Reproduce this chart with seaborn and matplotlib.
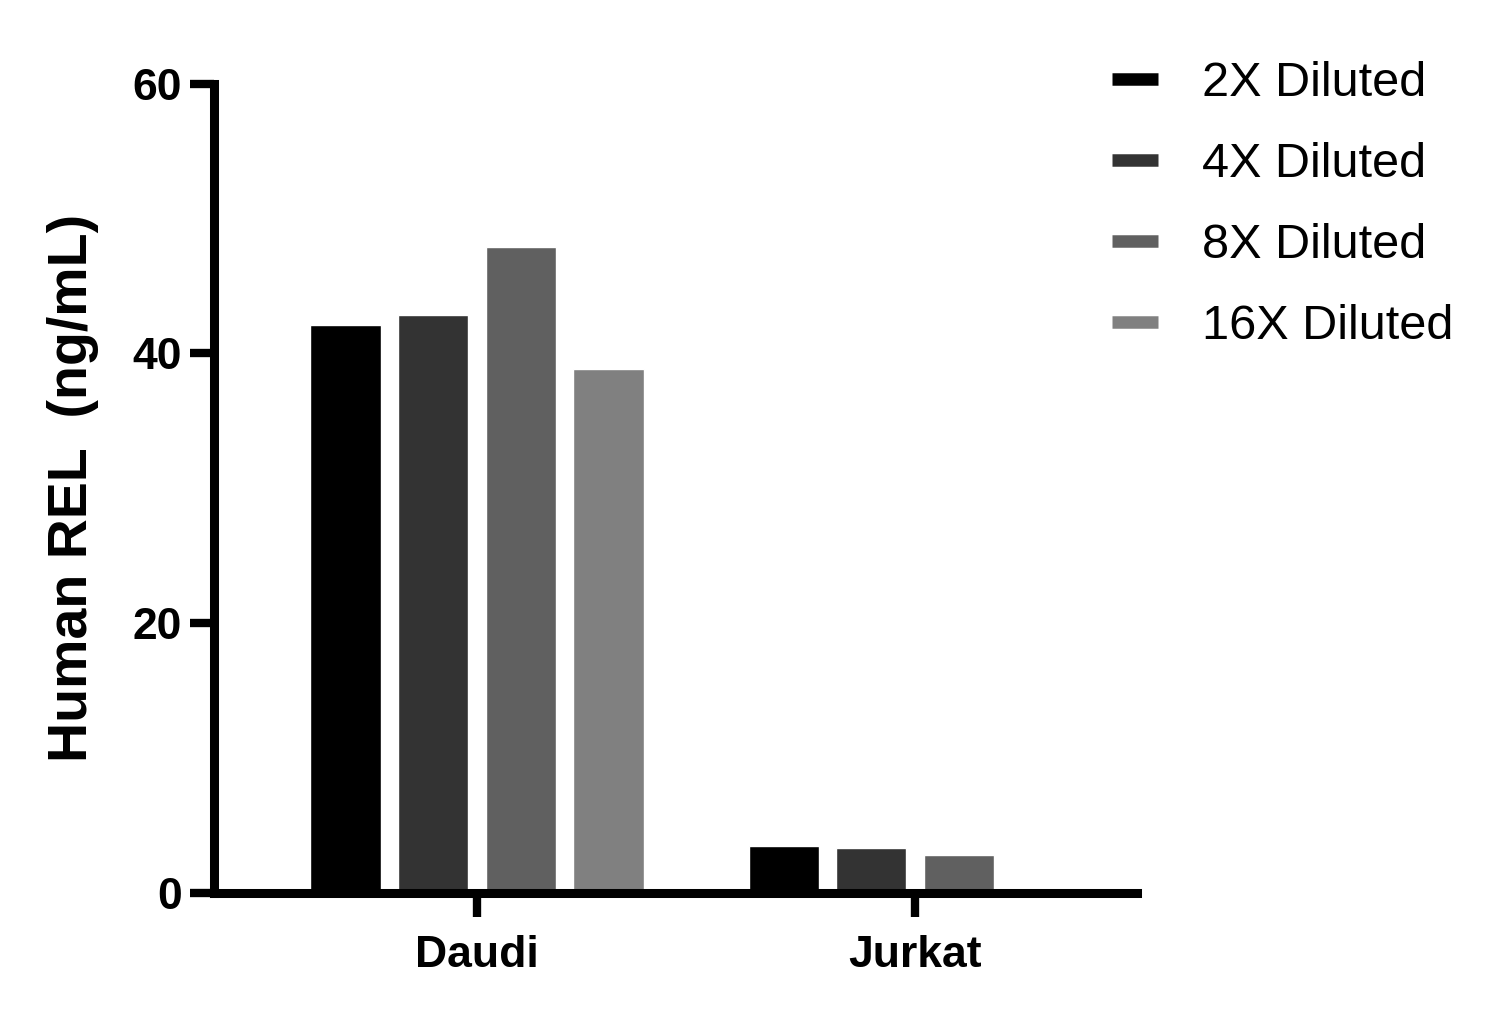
import matplotlib
matplotlib.use("Agg")
import matplotlib.pyplot as plt
from matplotlib.lines import Line2D
import seaborn as sns
import pandas as pd
import numpy as np

categories = ["Daudi", "Jurkat"]
series = ["2X Diluted", "4X Diluted", "8X Diluted", "16X Diluted"]
values_2x = [42.1, 3.5]
values_4x = [42.85, 3.3]
values_8x = [47.9, 2.85]
values_16x = [38.85, np.nan]
colors = ["#000000", "#333333", "#606060", "#808080"]

rows = []
for s, vals in zip(series, [values_2x, values_4x, values_8x, values_16x]):
    for c, v in zip(categories, vals):
        rows.append({"Cell": c, "Dilution": s, "Value": v})
df = pd.DataFrame(rows)

sns.set_style("white", {"xtick.bottom": True, "ytick.left": True})
plt.rcParams["font.family"] = ["Liberation Sans", "DejaVu Sans"]
plt.rcParams["text.color"] = "black"
plt.rcParams["axes.labelcolor"] = "black"
plt.rcParams["xtick.color"] = "black"
plt.rcParams["ytick.color"] = "black"

fig = plt.figure(figsize=(14.97, 10.19), dpi=100)
ax = fig.add_axes([0.143, 0.1237, 0.6165, 0.7943])

sns.barplot(data=df, x="Cell", y="Value", hue="Dilution", order=categories,
            hue_order=series, palette=colors, width=0.8, gap=0.2,
            saturation=1, ax=ax, legend=False, errorbar=None)

ax.set_xlim(-0.6, 1.506)
ax.set_ylim(0, 60)
ax.set_yticks([0, 20, 40, 60])
ax.set_xlabel("")
ax.set_ylabel("Human REL  (ng/mL)", fontsize=40, fontweight="bold", labelpad=24)

for side in ["top", "right"]:
    ax.spines[side].set_visible(False)
for side in ["left", "bottom"]:
    ax.spines[side].set_linewidth(6.5)
    ax.spines[side].set_color("black")
    ax.spines[side].set_capstyle("projecting")

ax.tick_params(axis="y", left=True, length=17, width=6, direction="out", pad=6,
               labelsize=32, color="black", labelcolor="black")
ax.tick_params(axis="x", bottom=True, length=17, width=6, direction="out", pad=13,
               labelsize=32, color="black", labelcolor="black")
for lab in ax.get_xticklabels() + ax.get_yticklabels():
    lab.set_fontweight("bold")

handles = [Line2D([0], [0], color=c, lw=9, solid_capstyle="butt") for c in colors]
fig.legend(handles, series, loc="upper left", bbox_to_anchor=(0.7135, 0.983),
           frameon=False, fontsize=35, handlelength=0.95, handletextpad=0.9,
           labelspacing=0.74)

fig.savefig("out.png", dpi=100, facecolor="white")
